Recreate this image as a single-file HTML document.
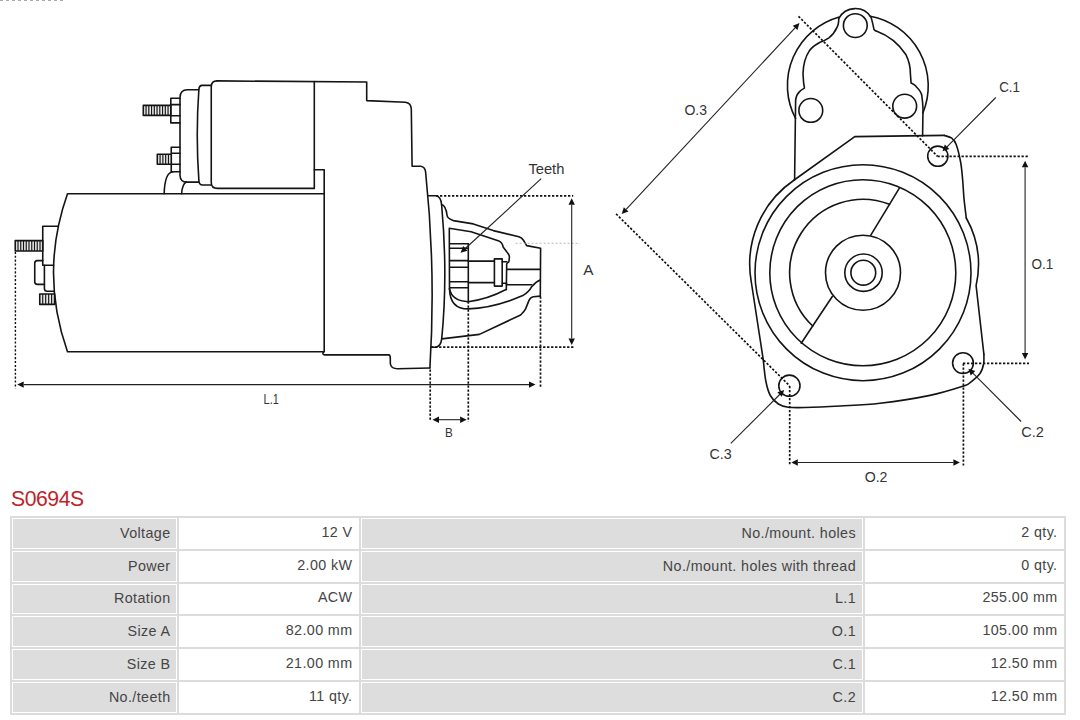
<!DOCTYPE html>
<html><head><meta charset="utf-8"><style>
html,body{margin:0;padding:0;background:#fff;width:1080px;height:720px;overflow:hidden;position:relative;font-family:"Liberation Sans",sans-serif;}
svg{position:absolute;left:0;top:0;}
.title{position:absolute;left:11px;top:485.2px;font-size:21.2px;color:#c0242b;line-height:28px;letter-spacing:-0.45px;}
.tbl{position:absolute;left:10.0px;top:516.0px;width:1056.0px;height:199.0px;background:#dcdcdc;}
.cell{position:absolute;box-sizing:border-box;background:#fff;text-align:right;font-size:14.3px;color:#454545;white-space:nowrap;}
.cell.g{border:1px solid #fff;background:#dddddd;}
.cell span{position:absolute;top:-1.3px;letter-spacing:0.4px}
</style></head><body>
<svg width="1080" height="720" viewBox="0 0 1080 720">
<style>
.o{fill:none;stroke:#141414;stroke-width:1.6;stroke-linejoin:round;stroke-linecap:round}
.s{fill:#e6e6e6}
.h{stroke:#141414;stroke-width:1.15}
.t{stroke:#222;stroke-width:1.1;fill:none}
.ah{fill:#111;stroke:none}
.d{fill:none;stroke:#111;stroke-width:1.7;stroke-dasharray:2.3 1.7}
.d2{fill:none;stroke:#111;stroke-width:1.4;stroke-dasharray:2.1 1.8}
.df{fill:none;stroke:#bbb;stroke-width:1;stroke-dasharray:2 2}
text{font-family:"Liberation Sans",sans-serif;fill:#333}
</style>
<path d="M0 0.5 L64 0.5" style="stroke:#aaa;stroke-width:1.2;stroke-dasharray:3 3;fill:none"/>
<path class="o" d="M324.2 193.75 L67.5 193.75 Q39.5 272.7 67.5 351.7 L323.8 351.7"/>
<path class="o" d="M314.3 169.7 L324.2 169.7 L324.2 351.7 L322.9 352.9 L322.9 353.8 Q323 354.9 324.5 354.9 L388.9 354.9 Q390.3 355 390.3 358.5 L390.3 363.5 Q391 368.75 397.5 368.75 L429.9 368"/>
<path class="o" d="M217 80.9 L366.7 82 L366.7 100.6 L405.5 102.2 Q411 103 411.3 109 L412.1 166.25 L420.8 166.25 Q425 166.8 425.6 172 Q436 270 429.9 368"/>
<path class="o" d="M217 80.9 Q211.25 81 211.25 87 L211.25 182.5 Q211.25 188.4 217.5 188.4 L314.3 188.4 L314.3 81.6"/>
<path class="o" d="M211.25 85.4 L202 85.4 Q199.2 85.6 198.9 89 Q195.6 135 198.9 181 Q199.3 185 202.5 185 L211.25 185"/>
<path class="o" d="M198.6 89.8 L187.5 89.8 Q180 90 180 97.5 L180 175.5 Q180.5 182.1 186.5 182.1 L198.9 182.1"/>
<path class="o" d="M180 98.3 L170.8 98.3 L170.8 122.9 L180 122.9 M170.8 104.6 L180 104.6 M170.8 115.8 L180 115.8"/>
<rect class="o s" x="143.3" y="105.4" width="27.5" height="10.0"/>
<line class="h" x1="146.05" y1="105.4" x2="146.05" y2="115.4"/>
<line class="h" x1="148.8" y1="105.4" x2="148.8" y2="115.4"/>
<line class="h" x1="151.55" y1="105.4" x2="151.55" y2="115.4"/>
<line class="h" x1="154.3" y1="105.4" x2="154.3" y2="115.4"/>
<line class="h" x1="157.05" y1="105.4" x2="157.05" y2="115.4"/>
<line class="h" x1="159.8" y1="105.4" x2="159.8" y2="115.4"/>
<line class="h" x1="162.55" y1="105.4" x2="162.55" y2="115.4"/>
<line class="h" x1="165.3" y1="105.4" x2="165.3" y2="115.4"/>
<line class="h" x1="168.05" y1="105.4" x2="168.05" y2="115.4"/>
<path class="o" d="M180 147.3 L171.25 147.3 L171.25 171.7 L180 171.7 M171.25 153.3 L180 153.3 M171.25 164.3 L180 164.3"/>
<rect class="o s" x="157.3" y="154.3" width="13.949999999999989" height="10.0"/>
<line class="h" x1="160.09" y1="154.3" x2="160.09" y2="164.3"/>
<line class="h" x1="162.88" y1="154.3" x2="162.88" y2="164.3"/>
<line class="h" x1="165.67" y1="154.3" x2="165.67" y2="164.3"/>
<line class="h" x1="168.46" y1="154.3" x2="168.46" y2="164.3"/>
<path class="o" d="M164.2 193.75 Q164.6 172.5 173 171.7"/>
<path class="o" d="M181.6 193.75 Q182.2 184 186.5 182.1"/>
<path class="o" d="M58.3 226.25 L42.75 226.25 L42.75 265.25 L53.6 265.25"/>
<rect class="o s" x="15.25" y="240.6" width="27.5" height="10.400000000000006"/>
<line class="h" x1="18.0" y1="240.6" x2="18.0" y2="251"/>
<line class="h" x1="20.75" y1="240.6" x2="20.75" y2="251"/>
<line class="h" x1="23.5" y1="240.6" x2="23.5" y2="251"/>
<line class="h" x1="26.25" y1="240.6" x2="26.25" y2="251"/>
<line class="h" x1="29.0" y1="240.6" x2="29.0" y2="251"/>
<line class="h" x1="31.75" y1="240.6" x2="31.75" y2="251"/>
<line class="h" x1="34.5" y1="240.6" x2="34.5" y2="251"/>
<line class="h" x1="37.25" y1="240.6" x2="37.25" y2="251"/>
<line class="h" x1="40.0" y1="240.6" x2="40.0" y2="251"/>
<path class="o" d="M42.75 260.6 L37.2 260.6 Q34.75 260.7 34.75 263.2 L34.75 281.8 Q34.8 284.4 37.3 284.4 L44.4 284.4"/>
<path class="o" d="M44.4 265.25 L44.4 288.5 Q44.5 291.25 47.2 291.25 L53.8 291.25"/>
<rect class="o s" x="39.75" y="294" width="14.850000000000001" height="10.399999999999977"/>
<line class="h" x1="42.72" y1="294" x2="42.72" y2="304.4"/>
<line class="h" x1="45.69" y1="294" x2="45.69" y2="304.4"/>
<line class="h" x1="48.66" y1="294" x2="48.66" y2="304.4"/>
<line class="h" x1="51.63" y1="294" x2="51.63" y2="304.4"/>
<path class="o" d="M428 195.8 L436 195.8 Q440.8 196.6 441.6 204.5 Q448 275 441.7 338.9 Q440.8 346.2 436 347.2 L431.1 347.2"/>
<path class="o" d="M441.6 204.5 Q446 206 447 215 Q447.2 218.5 453.3 220.6 L473.3 223.9 L493.3 230.6 L518.9 236.7 Q522 238 523.3 240 L526.7 245.6 L540.6 248.3 L540.3 296.1"/>
<path class="o" d="M441.7 338.9 L479.4 334.4 L520.6 315 Q524 312 525.6 308.9 L528.9 300.6 Q530.5 297 533.3 296.7 L540.3 296.1"/>
<path class="o" d="M449.5 288.9 L449.3 228.3 L471.1 231.7 L498.9 241.1 Q502 242.2 503.3 247.2 L506.7 251.7 Q509.6 255 509.4 257.2 L508.9 261.7 Q506.7 263 506.7 264 L506.3 289.5"/>
<path class="o" d="M449.5 288.9 Q452 301 468.3 301.7 Q488 299 505 290 Q506 289.6 506.3 289.5"/>
<path class="o" d="M449.5 288.9 Q450 309 468.3 308.9 Q494 308 522.8 295.6 Q529 292 531.7 286.7 Q536 281.5 540.3 280"/>
<path class="o" d="M450 243.7 L468.3 243.7 M450 248.3 L468.3 248.3 M450 260.6 L468.3 260.6 M450 267.2 L468.3 267.2 M450 281.7 L468.3 281.7 M450 287.8 L468.3 287.8"/>
<path class="o" d="M468.3 243.7 L468.3 301.5"/>
<path class="o" d="M468.3 261.1 L494.4 261.1 M468.3 282.6 L494.4 282.6"/>
<rect class="o" x="494.4" y="258.9" width="7.8" height="27.2"/>
<path class="o" d="M502.2 261.7 L506.7 261.7 M502.2 283.3 L506.7 283.3"/>
<path class="o" d="M506.7 269.4 L540.3 269.4 M506.3 284.8 L531.7 284.8"/>
<path class="d" d="M436 195.8 L573.2 195.8"/>
<path class="d" d="M431.1 347.2 L575 347.2"/>
<path class="df" d="M515.6 243.3 L580 243.3"/>
<path class="ah" d="M571.70 345.00 L568.50 338.50 L574.90 338.50 Z"/>
<path class="ah" d="M571.70 198.30 L568.50 204.80 L574.90 204.80 Z"/>
<line class="t" x1="571.7" y1="204.8" x2="571.7" y2="338.5"/>
<path class="d2" d="M15.4 251.8 L15.4 388.5"/>
<path class="ah" d="M535.50 384.60 L529.00 387.80 L529.00 381.40 Z"/>
<path class="ah" d="M17.20 384.60 L23.70 387.80 L23.70 381.40 Z"/>
<line class="t" x1="23.7" y1="384.6" x2="529.0" y2="384.6"/>
<path class="d" d="M430.2 369.5 L430.2 421"/>
<path class="d" d="M468.3 301.5 L468.3 421.7"/>
<path class="d" d="M540.5 296.5 L540.5 387"/>
<path class="ah" d="M466.60 419.70 L460.10 422.90 L460.10 416.50 Z"/>
<path class="ah" d="M432.50 419.70 L439.00 422.90 L439.00 416.50 Z"/>
<line class="t" x1="439.0" y1="419.7" x2="460.1" y2="419.7"/>
<line class="t" x1="541.2" y1="178.7" x2="465.02" y2="248.74"/>
<path class="ah" d="M460.60 252.80 L463.22 246.05 L467.55 250.76 Z"/>
<text x="263.6" y="403.8" font-size="14" textLength="15.2" lengthAdjust="spacingAndGlyphs">L.1</text>
<text x="444.9" y="436.8" font-size="13" textLength="7.8" lengthAdjust="spacingAndGlyphs">B</text>
<text x="583.3" y="274.8" font-size="14" textLength="10.2" lengthAdjust="spacingAndGlyphs">A</text>
<text x="528.4" y="173.9" font-size="14.2" textLength="36" lengthAdjust="spacingAndGlyphs">Teeth</text>
<path class="o" d="M839.3 17 A71 71 0 0 0 795.6 118.5"/>
<path class="o" d="M870.4 16.2 A71 71 0 0 1 922.9 113"/>
<path class="o" d="M838.8 18.5 A18.6 18.6 0 0 1 871.2 17.6 Q873 24 874 29.6 Q875 30.8 876.3 31.1 Q895 38 906 54.8 Q910.6 64 910.4 74 L911.1 83 Q916 85.6 916.3 86.7 Q921.5 92 921.8 95.6 Q922.8 102 923 109 L922.6 136"/>
<path class="o" d="M838.8 18.5 Q838.6 25 837 27.4 Q834 34 828.9 37.8 Q825 40.5 820 42.2 Q813 46 809.6 50.4 Q803.2 60 803 74 L803.7 83.7 Q804.4 87 804.4 88.1 Q801 90 799.3 91.9 Q795.6 96 795.6 101.5 L794.6 180"/>
<circle class="o" cx="855.3" cy="25.6" r="11.9"/>
<circle class="o" cx="810.8" cy="110.4" r="11.9"/>
<circle class="o" cx="904.7" cy="106.2" r="11.9"/>
<path class="o" d="M794.2 180 L854.8 136.6 L944.4 135.4"/>
<path class="o" d="M944.4 135.4 C945.63 135.87 949.83 136.70 951.80 138.20 C953.77 139.70 954.72 140.35 956.20 144.40 C957.68 148.45 959.62 156.48 960.70 162.50 C961.78 168.52 962.15 174.48 962.70 180.50 C963.25 186.52 963.40 192.35 964.00 198.60 C964.60 204.85 965.92 214.77 966.30 218.00"/>
<path class="o" d="M966.3 218 A96 96 0 0 1 976.1 285.6 L983.9 354.4"/>
<path class="o" d="M983.9 354.4 C983.85 356.00 984.25 360.82 983.60 364.00 C982.95 367.18 982.30 370.37 980.00 373.50 C977.70 376.63 972.63 380.68 969.80 382.80 C966.97 384.92 969.63 384.10 963.00 386.20 C956.37 388.30 943.83 392.55 930.00 395.40 C916.17 398.25 895.00 401.53 880.00 403.30 C865.00 405.07 852.50 405.30 840.00 406.00 C827.50 406.70 813.62 407.30 805.00 407.50 C796.38 407.70 792.73 407.78 788.30 407.20 C783.87 406.62 781.40 405.95 778.40 404.00 C775.40 402.05 772.40 399.33 770.30 395.50 C768.20 391.67 766.98 387.02 765.80 381.00 C764.62 374.98 763.63 363.00 763.20 359.40"/>
<path class="o" d="M763.2 359.4 L751.3 282 A101.8 101.8 0 0 1 794.2 180"/>
<circle class="o" cx="937.8" cy="156.2" r="10.1"/>
<circle class="o" cx="963" cy="363.1" r="10.4"/>
<circle class="o" cx="789.4" cy="385.7" r="10.6"/>
<circle class="o" cx="863" cy="272.7" r="108"/>
<circle class="o" cx="862.8" cy="272.7" r="93"/>
<path class="o" d="M889.5 204.3 A73.3 73.3 0 0 0 812.7 326"/>
<path class="o" d="M899.2 188.3 L870.8 235.2 M832.3 296.5 L801.2 343.2"/>
<circle class="o" cx="863" cy="272.7" r="37.5"/>
<circle class="o" cx="863.5" cy="272.7" r="18.7"/>
<circle class="o" cx="863.3" cy="272.7" r="12.4"/>
<path class="d" d="M798.5 16.3 L937.5 156.3"/>
<path class="d" d="M616.1 213.9 L789.6 385.8"/>
<path class="ah" d="M799.50 23.10 L797.41 30.04 L792.73 25.68 Z"/>
<path class="ah" d="M621.70 214.10 L628.47 211.52 L623.79 207.16 Z"/>
<line class="t" x1="626.13" y1="209.34" x2="795.07" y2="27.86"/>
<path class="d" d="M937.5 156.3 L1029 156.3"/>
<path class="d" d="M963 363.4 L1029 363.4"/>
<path class="ah" d="M1025.10 359.50 L1021.90 353.00 L1028.30 353.00 Z"/>
<path class="ah" d="M1025.10 160.80 L1021.90 167.30 L1028.30 167.30 Z"/>
<line class="t" x1="1025.1" y1="167.3" x2="1025.1" y2="353.0"/>
<path class="d" d="M789.7 386 L789.7 465.5"/>
<path class="d" d="M963.4 363.4 L963.4 465.5"/>
<path class="ah" d="M959.90 462.50 L953.40 465.70 L953.40 459.30 Z"/>
<path class="ah" d="M791.30 462.50 L797.80 465.70 L797.80 459.30 Z"/>
<line class="t" x1="797.8" y1="462.5" x2="953.4" y2="462.5"/>
<line class="t" x1="995.8" y1="97.5" x2="946.72" y2="147.04"/>
<path class="ah" d="M942.50 151.30 L944.80 144.43 L949.35 148.93 Z"/>
<line class="t" x1="1021.1" y1="421.5" x2="972.64" y2="372.95"/>
<path class="ah" d="M968.40 368.70 L975.26 371.04 L970.73 375.56 Z"/>
<line class="t" x1="730.8" y1="443.3" x2="779.95" y2="394.24"/>
<path class="ah" d="M784.20 390.00 L781.86 396.86 L777.34 392.33 Z"/>
<text x="684.4" y="115.3" font-size="14.6" textLength="22.6" lengthAdjust="spacingAndGlyphs">O.3</text>
<text x="999.2" y="91.6" font-size="14.2" textLength="20.8" lengthAdjust="spacingAndGlyphs">C.1</text>
<text x="1031.4" y="269.4" font-size="14.6" textLength="21.8" lengthAdjust="spacingAndGlyphs">O.1</text>
<text x="1021.2" y="436.9" font-size="14.2" textLength="22.6" lengthAdjust="spacingAndGlyphs">C.2</text>
<text x="709.5" y="459.1" font-size="14.2" textLength="22.2" lengthAdjust="spacingAndGlyphs">C.3</text>
<text x="864.7" y="482" font-size="14.6" textLength="22.8" lengthAdjust="spacingAndGlyphs">O.2</text>
</svg>
<div class="title">S0694S</div>
<div class="tbl"></div>
<div class="cell g" style="left:12.00px;top:518.00px;width:165.00px;height:31.00px;line-height:31.00px"><span style="right:5.5px">Voltage</span></div>
<div class="cell" style="left:179.00px;top:518.00px;width:180.00px;height:31.00px;line-height:31.00px"><span style="right:6.5px">12 V</span></div>
<div class="cell g" style="left:361.00px;top:518.00px;width:502.00px;height:31.00px;line-height:31.00px"><span style="right:6.0px">No./mount. holes</span></div>
<div class="cell" style="left:865.00px;top:518.00px;width:199.00px;height:31.00px;line-height:31.00px"><span style="right:6.5px">2 qty.</span></div>
<div class="cell g" style="left:12.00px;top:551.00px;width:165.00px;height:30.70px;line-height:30.70px"><span style="right:5.5px">Power</span></div>
<div class="cell" style="left:179.00px;top:551.00px;width:180.00px;height:30.70px;line-height:30.70px"><span style="right:6.5px">2.00 kW</span></div>
<div class="cell g" style="left:361.00px;top:551.00px;width:502.00px;height:30.70px;line-height:30.70px"><span style="right:6.0px">No./mount. holes with thread</span></div>
<div class="cell" style="left:865.00px;top:551.00px;width:199.00px;height:30.70px;line-height:30.70px"><span style="right:6.5px">0 qty.</span></div>
<div class="cell g" style="left:12.00px;top:583.70px;width:165.00px;height:30.60px;line-height:30.60px"><span style="right:5.5px">Rotation</span></div>
<div class="cell" style="left:179.00px;top:583.70px;width:180.00px;height:30.60px;line-height:30.60px"><span style="right:6.5px">ACW</span></div>
<div class="cell g" style="left:361.00px;top:583.70px;width:502.00px;height:30.60px;line-height:30.60px"><span style="right:6.0px">L.1</span></div>
<div class="cell" style="left:865.00px;top:583.70px;width:199.00px;height:30.60px;line-height:30.60px"><span style="right:6.5px">255.00 mm</span></div>
<div class="cell g" style="left:12.00px;top:616.30px;width:165.00px;height:30.70px;line-height:30.70px"><span style="right:5.5px">Size A</span></div>
<div class="cell" style="left:179.00px;top:616.30px;width:180.00px;height:30.70px;line-height:30.70px"><span style="right:6.5px">82.00 mm</span></div>
<div class="cell g" style="left:361.00px;top:616.30px;width:502.00px;height:30.70px;line-height:30.70px"><span style="right:6.0px">O.1</span></div>
<div class="cell" style="left:865.00px;top:616.30px;width:199.00px;height:30.70px;line-height:30.70px"><span style="right:6.5px">105.00 mm</span></div>
<div class="cell g" style="left:12.00px;top:649.00px;width:165.00px;height:30.90px;line-height:30.90px"><span style="right:5.5px">Size B</span></div>
<div class="cell" style="left:179.00px;top:649.00px;width:180.00px;height:30.90px;line-height:30.90px"><span style="right:6.5px">21.00 mm</span></div>
<div class="cell g" style="left:361.00px;top:649.00px;width:502.00px;height:30.90px;line-height:30.90px"><span style="right:6.0px">C.1</span></div>
<div class="cell" style="left:865.00px;top:649.00px;width:199.00px;height:30.90px;line-height:30.90px"><span style="right:6.5px">12.50 mm</span></div>
<div class="cell g" style="left:12.00px;top:681.90px;width:165.00px;height:31.10px;line-height:31.10px"><span style="right:5.5px">No./teeth</span></div>
<div class="cell" style="left:179.00px;top:681.90px;width:180.00px;height:31.10px;line-height:31.10px"><span style="right:6.5px">11 qty.</span></div>
<div class="cell g" style="left:361.00px;top:681.90px;width:502.00px;height:31.10px;line-height:31.10px"><span style="right:6.0px">C.2</span></div>
<div class="cell" style="left:865.00px;top:681.90px;width:199.00px;height:31.10px;line-height:31.10px"><span style="right:6.5px">12.50 mm</span></div>
</body></html>
